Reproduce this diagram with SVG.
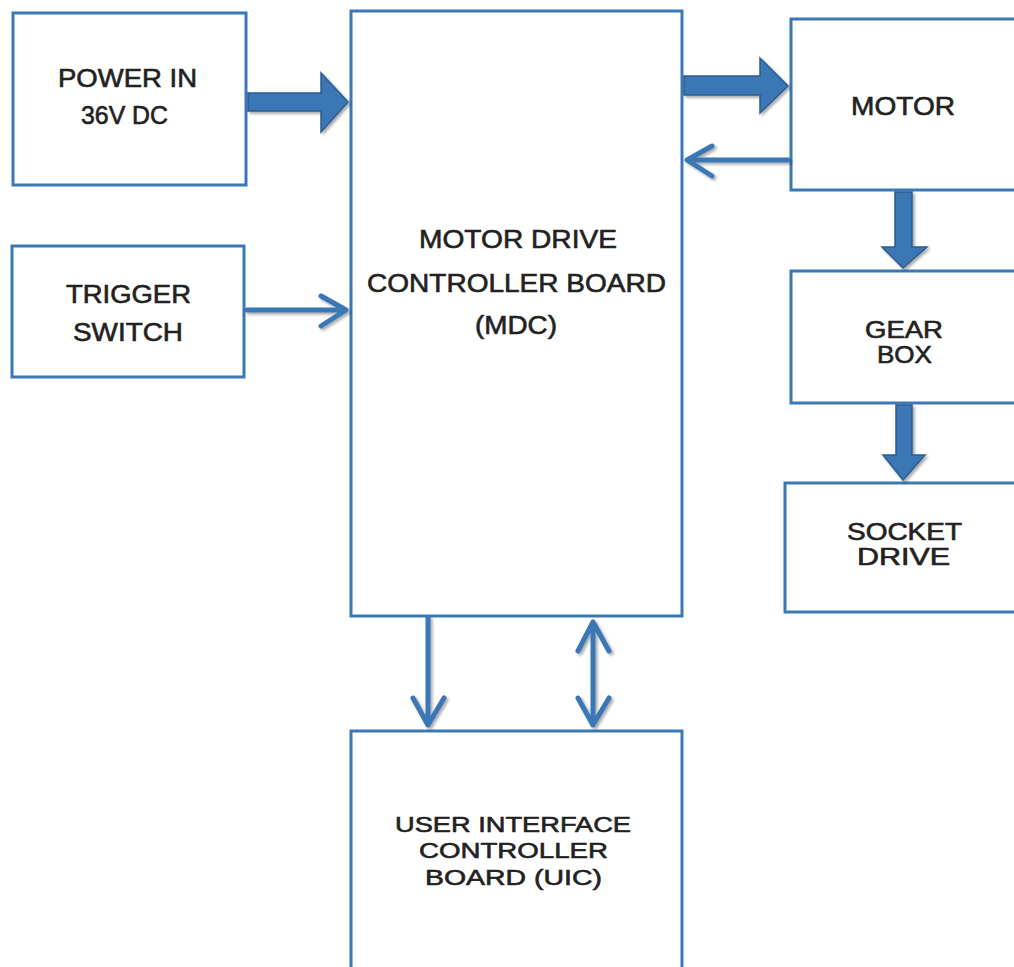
<svg xmlns="http://www.w3.org/2000/svg" width="1014" height="967" viewBox="0 0 1014 967">
<defs>
<filter id="sh" x="-20%" y="-20%" width="140%" height="140%">
<feGaussianBlur in="SourceAlpha" stdDeviation="1.5"/>
<feOffset dx="1.5" dy="2" result="b"/>
<feComponentTransfer><feFuncA type="linear" slope="0.35"/></feComponentTransfer>
<feMerge><feMergeNode/><feMergeNode in="SourceGraphic"/></feMerge>
</filter>
</defs>
<style>
.box{fill:#fff;stroke:#3b78b6;stroke-width:3}
.t{font-family:"Liberation Sans",Arial,sans-serif;font-size:25px;fill:#222;stroke:#222;stroke-width:0.6;text-anchor:start}
.s{font-size:23px}
.blk{fill:#3b77b4;stroke:#2b5d91;stroke-width:1.5;stroke-linejoin:miter;filter:url(#sh)}
.ln{fill:none;stroke:#3b77b4;stroke-width:5;stroke-linecap:round;stroke-linejoin:round;filter:url(#sh)}
</style>
<rect width="1014" height="967" fill="#fff"/>
<g id="power">
<rect class="box" x="13" y="13" width="233" height="172"/>
<text class="t" x="58" y="87" textLength="139" lengthAdjust="spacingAndGlyphs">POWER IN</text>
<text class="t" x="81" y="124" textLength="87" lengthAdjust="spacingAndGlyphs">36V DC</text>
</g>
<g id="trigger">
<rect class="box" x="12" y="246" width="232" height="131"/>
<text class="t" x="66" y="303" textLength="125" lengthAdjust="spacingAndGlyphs">TRIGGER</text>
<text class="t" x="73" y="341" textLength="110" lengthAdjust="spacingAndGlyphs">SWITCH</text>
</g>
<g id="mdc">
<rect class="box" x="351" y="11" width="331" height="605"/>
<text class="t" x="419" y="248" textLength="198" lengthAdjust="spacingAndGlyphs">MOTOR DRIVE</text>
<text class="t" x="367" y="292" textLength="299" lengthAdjust="spacingAndGlyphs">CONTROLLER BOARD</text>
<text class="t" x="475" y="334" textLength="82" lengthAdjust="spacingAndGlyphs">(MDC)</text>
</g>
<g id="motor">
<rect class="box" x="791" y="19" width="240" height="171"/>
<text class="t" x="851" y="115" textLength="104" lengthAdjust="spacingAndGlyphs">MOTOR</text>
</g>
<g id="gearbox">
<rect class="box" x="791" y="271" width="240" height="132"/>
<text class="t s" x="865" y="338" textLength="78" lengthAdjust="spacingAndGlyphs">GEAR</text>
<text class="t s" x="877" y="363" textLength="55" lengthAdjust="spacingAndGlyphs">BOX</text>
</g>
<g id="socket">
<rect class="box" x="785" y="483" width="240" height="129"/>
<text class="t s" x="847" y="540" textLength="115" lengthAdjust="spacingAndGlyphs">SOCKET</text>
<text class="t s" x="857" y="565" textLength="93" lengthAdjust="spacingAndGlyphs">DRIVE</text>
</g>
<g id="uic">
<rect class="box" x="351" y="731" width="331" height="250"/>
<text class="t" x="395" y="832" textLength="236" lengthAdjust="spacingAndGlyphs" style="font-size:22px">USER INTERFACE</text>
<text class="t" x="419" y="858" textLength="189" lengthAdjust="spacingAndGlyphs" style="font-size:22px">CONTROLLER</text>
<text class="t" x="425" y="885" textLength="177" lengthAdjust="spacingAndGlyphs" style="font-size:22px">BOARD (UIC)</text>
</g>
<g id="connectors">
<polygon class="blk" points="248,93 321,93 321,73 348,102 321,132 321,111 248,111"/>
<polygon class="blk" points="684,76 760,76 760,58 788,86 760,113 760,95 684,95"/>
<polygon class="blk" points="895,192 912,192 912,247 927,247 903,268 882,247 895,247"/>
<polygon class="blk" points="896,405 912,405 912,455 925,455 903,480 883,455 896,455"/>
<path class="ln" d="M247,310 L345,310 M321,296 L346,310 L321,326"/>
<path class="ln" d="M788,160 L688,160 M712,146 L687,160 L712,176"/>
<path class="ln" d="M428,618 L428,725 M413,698 L428,725 L444,698"/>
<path class="ln" d="M593,622 L593,725 M578,651 L593,622 L609,651 M578,698 L593,725 L609,698"/>
</g>
</svg>
